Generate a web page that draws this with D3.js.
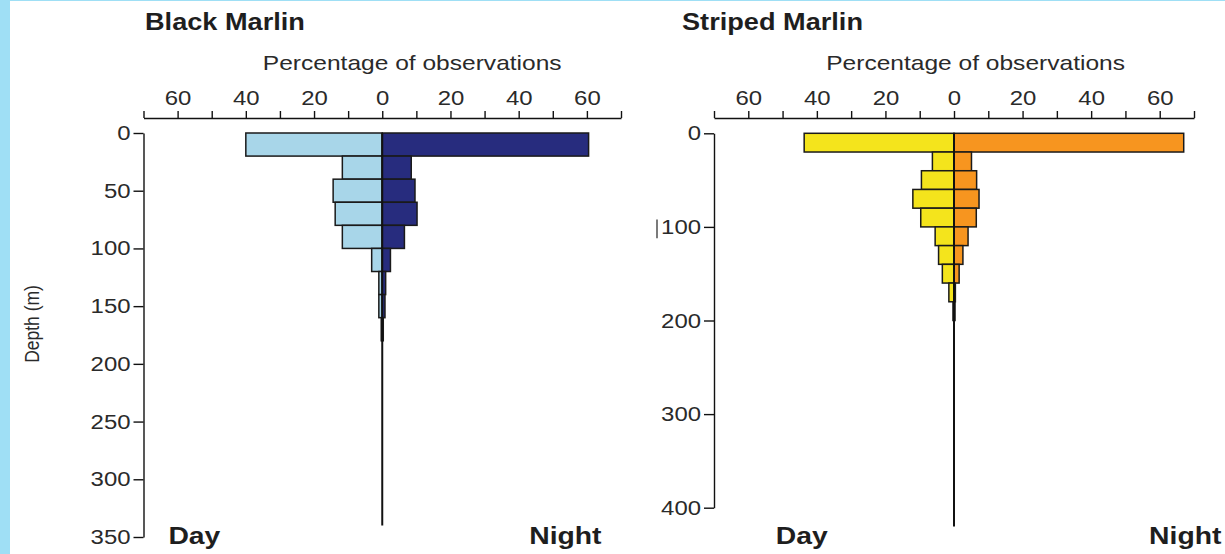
<!DOCTYPE html>
<html>
<head>
<meta charset="utf-8">
<script src="https://cdn.jsdelivr.net/npm/d3@7"></script>
<style>
  html, body { margin: 0; padding: 0; background: #9fdff5; }
  svg { display: block; }
</style>
</head>
<body>
<svg id="chart" width="1225" height="554"></svg>
<script>
// ---- data -------------------------------------------------------------
// Depth bins are 20 m wide; each value is the bin's upper edge (m).
const binSize = 20;

// Black marlin: percentage of observations per depth bin
const blackBins  = [0, 20, 40, 60, 80, 100, 120, 140, 160];
const blackDay   = [40, 11.7, 14.4, 13.8, 11.7, 3.1, 1.0, 1.0, 0.3];
const blackNight = [60.5, 8.5, 9.6, 10.2, 6.5, 2.4, 1.0, 0.8, 0.3];

// Striped marlin: percentage of observations per depth bin
const stripedBins  = [0, 20, 40, 60, 80, 100, 120, 140, 160, 180];
const stripedDay   = [43.7, 6.3, 9.5, 12.0, 9.7, 5.5, 4.5, 3.4, 1.5, 0.3];
const stripedNight = [67, 5.1, 6.6, 7.3, 6.5, 4.1, 2.6, 1.5, 0.4, 0.3];

// Axis ticks
const pctTicks          = [-70, -60, -50, -40, -30, -20, -10, 0, 10, 20, 30, 40, 50, 60, 70];
const pctLabelled       = [-60, -40, -20, 0, 20, 40, 60];
const blackDepthTicks   = [0, 50, 100, 150, 200, 250, 300, 350];
const stripedDepthTicks = [0, 100, 200, 300, 400];

// ---- drawing -----------------------------------------------------------
const FONT = "'Liberation Sans', Arial, Helvetica, sans-serif";
const TEXT = "#1e1e1e";
const SX = 1.18;              // horizontal glyph stretch of all labels

const svg = d3.select("#chart");

// white page with a thin coloured margin on the left and top
svg.append("rect")
  .attr("x", 10).attr("y", 1)
  .attr("width", 1215).attr("height", 553)
  .attr("fill", "#ffffff");

const panels = [
  {
    title: "Striped Marlin",
    bins: stripedBins, day: stripedDay, night: stripedNight,
    dayColor: "#f4e41c", nightColor: "#f7951f",
    maxDepth: 400, depthTicks: stripedDepthTicks, lineDepth: 420,
    xRange: [714, 1194], yRange: [133.3, 507.7],
    titleX: 682, labelAt: 6.3, dayAt: -52, nightAt: 78
  },
  {
    title: "Black Marlin",
    bins: blackBins, day: blackDay, night: blackNight,
    dayColor: "#a8d6e9", nightColor: "#272c7e",
    maxDepth: 350, depthTicks: blackDepthTicks, lineDepth: 340,
    xRange: [143.5, 621], yRange: [133, 537],
    titleX: 145, labelAt: 8.8, dayAt: -62.7, nightAt: 64.3
  }
];

const axisY = 118;

panels.forEach(p => {
  const x = d3.scaleLinear().domain([-70, 70]).range(p.xRange);
  const y = d3.scaleLinear().domain([0, p.maxDepth]).range(p.yRange);
  const g = svg.append("g");

  // title
  g.append("text")
    .attr("class", "stretch")
    .attr("x", p.titleX).attr("y", 30)
    .attr("font-family", FONT).attr("font-size", 23).attr("font-weight", "bold")
    .attr("fill", TEXT)
    .text(p.title);

  // x axis caption
  g.append("text")
    .attr("class", "stretch")
    .attr("x", x(p.labelAt)).attr("y", 70)
    .attr("text-anchor", "middle")
    .attr("font-family", FONT).attr("font-size", 20.8)
    .attr("fill", "#2a2a2a")
    .text("Percentage of observations");

  // top percentage axis, mirrored around zero
  const xAxis = g.append("g")
    .attr("transform", `translate(0,${axisY})`)
    .call(d3.axisTop(x)
      .tickValues(pctTicks)
      .tickFormat(d => pctLabelled.includes(d) ? Math.abs(d) : "")
      .tickSize(7).tickPadding(6).tickSizeOuter(0));
  xAxis.attr("font-family", FONT).attr("font-size", 20.3);
  xAxis.selectAll("path, line").attr("stroke", "#111").attr("stroke-width", 1.4);
  xAxis.selectAll("text").attr("class", "stretch").attr("fill", "#2a2a2a");

  // depth axis
  const yAxis = g.append("g")
    .attr("transform", `translate(${p.xRange[0]},0)`)
    .call(d3.axisLeft(y)
      .tickValues(p.depthTicks)
      .tickSize(10).tickPadding(3).tickSizeOuter(0));
  yAxis.attr("font-family", FONT).attr("font-size", 20.3);
  yAxis.selectAll("path, line").attr("stroke", "#111").attr("stroke-width", 1.4);
  yAxis.selectAll("text").attr("class", "stretch").attr("fill", "#2a2a2a");

  const rows = p.bins.map((b, i) => ({ top: b, day: p.day[i], night: p.night[i] }));

  // day bars to the left of zero
  g.append("g").selectAll("rect")
    .data(rows).join("rect")
    .attr("x", d => x(-d.day))
    .attr("y", d => y(d.top))
    .attr("width", d => x(0) - x(-d.day))
    .attr("height", d => y(d.top + binSize) - y(d.top))
    .attr("fill", p.dayColor)
    .attr("stroke", "#1a1a1a").attr("stroke-width", 1.5);

  // night bars to the right of zero
  g.append("g").selectAll("rect")
    .data(rows).join("rect")
    .attr("x", x(0))
    .attr("y", d => y(d.top))
    .attr("width", d => x(d.night) - x(0))
    .attr("height", d => y(d.top + binSize) - y(d.top))
    .attr("fill", p.nightColor)
    .attr("stroke", "#1a1a1a").attr("stroke-width", 1.5);

  // zero line running down the profile
  g.append("line")
    .attr("x1", x(0)).attr("x2", x(0))
    .attr("y1", y(0)).attr("y2", y(p.lineDepth))
    .attr("stroke", "#111").attr("stroke-width", 2);

  // Day / Night captions
  g.append("text")
    .attr("class", "stretch")
    .attr("x", x(p.dayAt)).attr("y", 544)
    .attr("font-family", FONT).attr("font-size", 24).attr("font-weight", "bold")
    .attr("fill", TEXT)
    .text("Day");
  g.append("text")
    .attr("class", "stretch")
    .attr("x", x(p.nightAt)).attr("y", 544)
    .attr("text-anchor", "end")
    .attr("font-family", FONT).attr("font-size", 24).attr("font-weight", "bold")
    .attr("fill", TEXT)
    .text("Night");

  if (p.title === "Striped Marlin") {
    // small stray bar before the 100 m label
    g.append("line")
      .attr("x1", p.xRange[0] - 57).attr("x2", p.xRange[0] - 57)
      .attr("y1", y(92)).attr("y2", y(112))
      .attr("stroke", "#333").attr("stroke-width", 1.3);
  }
});

// shared depth axis caption
svg.append("text")
  .attr("transform", "translate(39,324) rotate(-90) scale(1,1.2)")
  .attr("text-anchor", "middle")
  .attr("font-family", FONT).attr("font-size", 17.5)
  .attr("fill", "#2a2a2a")
  .text("Depth (m)");

// widen the glyphs of all labels horizontally
svg.selectAll("text.stretch").each(function () {
  const w = this.getComputedTextLength();
  if (w > 0) {
    d3.select(this)
      .attr("textLength", w * SX)
      .attr("lengthAdjust", "spacingAndGlyphs");
  }
});
</script>
</body>
</html>
